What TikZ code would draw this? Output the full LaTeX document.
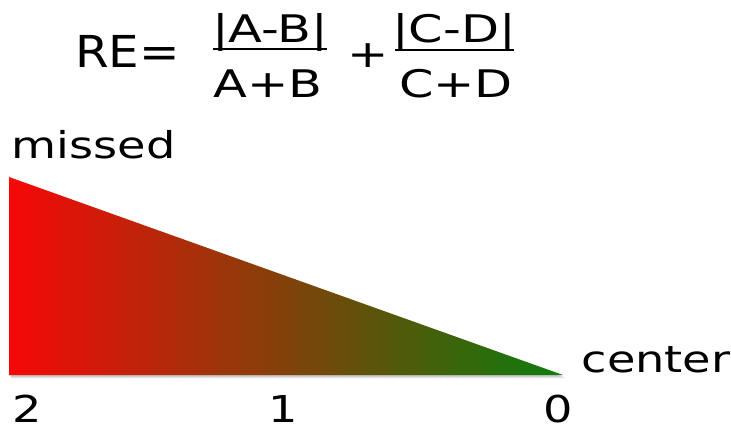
\documentclass[tikz,border=0pt]{standalone}
\usepackage{fontspec}
\usepackage{graphicx}
\setmainfont{DejaVu Sans}
\definecolor{redend}{RGB}{246,8,8}
\definecolor{greenend}{RGB}{12,124,12}
\tikzset{
  lbl/.style={inner sep=0pt, anchor=base, text=black},
  fracline/.style={line width=2pt, black},
}
\newcommand{\bigtxt}[1]{\fontsize{44}{48}\selectfont\scalebox{1.1}[1]{#1}}
\newcommand{\frtxt}[1]{\fontsize{38}{42}\selectfont\scalebox{1.3}[1]{#1}}
\newcommand{\lbtxt}[1]{\fontsize{37}{40}\selectfont\scalebox{1.25}[1]{#1}}
\begin{document}
\begin{tikzpicture}[x=1pt,y=-1pt]
\useasboundingbox (0,0) rectangle (731,428);
% formula
\node[lbl] (re) at (127.5,67) {\bigtxt{RE=}};
\node[lbl] (num1) at (270,43) {\frtxt{|A-B|}};
\node[lbl] (den1) at (268,97) {\frtxt{A+B}};
\coordinate (l1a) at (213,49); \coordinate (l1b) at (327,49);
\draw[fracline] (l1a) -- (l1b);
\node[lbl] (plus) at (368,67) {\frtxt{+}};
\node[lbl] (num2) at (454,43) {\frtxt{|C-D|}};
\node[lbl] (den2) at (456,97) {\frtxt{C+D}};
\coordinate (l2a) at (395,50); \coordinate (l2b) at (514,50);
\draw[fracline] (l2a) -- (l2b);
% triangle with shadow
\coordinate (tl) at (9,177);
\coordinate (bl) at (9,375);
\coordinate (br) at (563,375);
\fill[black, opacity=0.12] ([shift={(2,3)}]tl) -- ([shift={(2,3)}]bl) -- ([shift={(2,3)}]br) -- cycle;
\fill[black, opacity=0.12] ([shift={(1,1.5)}]tl) -- ([shift={(1,1.5)}]bl) -- ([shift={(1,1.5)}]br) -- cycle;
\shade[left color=redend, right color=greenend] (tl) -- (bl) -- (br) -- cycle;
% labels
\node[lbl] (missed) at (93.5,158) {\lbtxt{missed}};
\node[lbl] (center) at (656,372) {\lbtxt{center}};
\node[lbl] (two) at (27.5,422) {\lbtxt{2}};
\node[lbl] (one) at (283,422) {\lbtxt{1}};
\node[lbl] (zero) at (558,422) {\lbtxt{0}};
\end{tikzpicture}
\end{document}
